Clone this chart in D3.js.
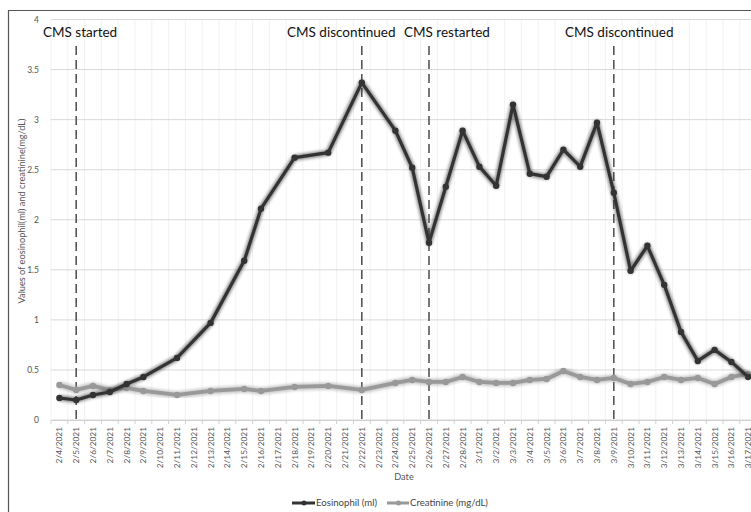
<!DOCTYPE html>
<html><head><meta charset="utf-8">
<script src="https://cdn.jsdelivr.net/npm/d3@7"></script>
<style>body{margin:0;background:#fff;}svg{display:block;}text{font-family:Lato,"Open Sans",sans-serif;}</style>
</head><body><svg id="c" width="751" height="512"></svg>
<script>
const dates = ["2/4/2021","2/5/2021","2/6/2021","2/7/2021","2/8/2021","2/9/2021","2/10/2021","2/11/2021","2/12/2021","2/13/2021","2/14/2021","2/15/2021","2/16/2021","2/17/2021","2/18/2021","2/19/2021","2/20/2021","2/21/2021","2/22/2021","2/23/2021","2/24/2021","2/25/2021","2/26/2021","2/27/2021","2/28/2021","3/1/2021","3/2/2021","3/3/2021","3/4/2021","3/5/2021","3/6/2021","3/7/2021","3/8/2021","3/9/2021","3/10/2021","3/11/2021","3/12/2021","3/13/2021","3/14/2021","3/15/2021","3/16/2021","3/17/2021"];
const eosinophil = [0.22,0.20,0.25,0.28,0.36,0.43,null,0.62,null,0.97,null,1.59,2.11,null,2.62,null,2.67,null,3.37,null,2.89,2.52,1.77,2.33,2.89,2.53,2.34,3.15,2.46,2.43,2.70,2.53,2.97,2.27,1.49,1.74,1.35,0.88,0.59,0.70,0.58,0.43];
const creatinine = [0.35,0.30,0.34,0.30,0.32,0.29,null,0.25,null,0.29,null,0.31,0.29,null,0.33,null,0.34,null,0.30,null,0.37,0.40,0.38,0.38,0.43,0.38,0.37,0.37,0.40,0.41,0.49,0.43,0.40,0.42,0.36,0.38,0.43,0.40,0.42,0.36,0.43,0.46];
const yTicks = [0,0.5,1,1.5,2,2.5,3,3.5,4];
const events = [{date:"2/5/2021",label:"CMS started",lx:43},{date:"2/22/2021",label:"CMS discontinued",lx:287},{date:"2/26/2021",label:"CMS restarted",lx:404},{date:"3/9/2021",label:"CMS discontinued",lx:565}];
const seriesNames = ["Eosinophil (ml)","Creatinine (mg/dL)"];
const seriesColors = ["#333333","#999999"];

const svg = d3.select("#c");
const defs = svg.append("defs");
defs.append("filter").attr("id","blur").attr("x","-10%").attr("y","-10%").attr("width","120%").attr("height","120%")
  .append("feGaussianBlur").attr("stdDeviation",1.6);

// frame
svg.append("path").attr("d","M8.5,520V10.5H760").attr("fill","none").attr("stroke","#555").attr("stroke-width",1.2);

const pLeft=51, pTop=19.5, pBottom=420;
const x = d3.scaleBand().domain(dates).range([pLeft, pLeft+42*16.8]);
const y = d3.scaleLinear().domain([0,4]).range([pBottom, pTop]);
const cx = d => x(d)+x.bandwidth()/2;
const bounds = d3.range(dates.length+1).map(i=>pLeft+i*x.step());

// grid
const g = svg.append("g");
g.selectAll(".vg").data(bounds).enter().append("line")
  .attr("x1",d=>d).attr("x2",d=>d)
  .attr("y1",pTop).attr("y2",pBottom).attr("stroke","#f2f2f2").attr("stroke-width",1);
g.selectAll(".hg").data(yTicks).enter().append("line")
  .attr("x1",pLeft).attr("x2",760).attr("y1",d=>y(d)).attr("y2",d=>y(d))
  .attr("stroke","#d9d9d9").attr("stroke-width",1);

// y axis labels
const ya = svg.append("g").attr("transform",`translate(${pLeft-9},0)`)
  .call(d3.axisLeft(y).tickValues(yTicks).tickSize(0).tickFormat(d3.format("")));
ya.select(".domain").remove();
ya.selectAll("text").attr("font-size",8.5).attr("fill","#555").attr("font-family","Lato,sans-serif");

// x axis
const xa = svg.append("g").attr("transform",`translate(0,${pBottom})`)
  .call(d3.axisBottom(x).tickSize(0));
xa.select(".domain").attr("stroke","#d0d0d0");
xa.selectAll("text").attr("font-size",8.3).attr("fill","#555").attr("font-family","Lato,sans-serif")
  .attr("transform","rotate(-90)").attr("text-anchor","end").attr("dx","-7").attr("dy","0.35em").attr("x",0).attr("y",0);
svg.selectAll(".xt").data(bounds).enter().append("line")
  .attr("x1",d=>d).attr("x2",d=>d)
  .attr("y1",pBottom).attr("y2",pBottom+4).attr("stroke","#d0d0d0");

// axis titles
svg.append("text").attr("transform","translate(25,211) rotate(-90)").attr("text-anchor","middle")
  .attr("font-size",9.2).attr("fill","#555").text("Values of eosinophil(ml) and creatinine(mg/dL)");
svg.append("text").attr("x",404).attr("y",480).attr("text-anchor","middle").attr("font-size",9.2).attr("fill","#555").text("Date");

// events
events.forEach(e=>{
  svg.append("line").attr("x1",cx(e.date)).attr("x2",cx(e.date)).attr("y1",46).attr("y2",pBottom+2)
    .attr("stroke","#555").attr("stroke-width",1.6).attr("stroke-dasharray","9,5");
  svg.append("text").attr("x",e.lx).attr("y",37).attr("font-size",13.5).attr("fill","#111").text(e.label);
});

// series
[creatinine, eosinophil].forEach((vals,k)=>{
  const idx = k===0?1:0;
  const col = seriesColors[idx];
  const pts = dates.map((d,i)=>({d,v:vals[i]})).filter(p=>p.v!==null);
  const line = d3.line().x(p=>cx(p.d)).y(p=>y(p.v));
  const sg = svg.append("g");
  sg.append("path").attr("d",line(pts)).attr("fill","none").attr("stroke",col).attr("stroke-width",idx===0?6:7)
    .attr("opacity",0.55).attr("filter","url(#blur)").attr("stroke-linejoin","round");
  sg.append("path").attr("d",line(pts)).attr("fill","none").attr("stroke",col).attr("stroke-width",idx===0?3.2:3.8).attr("stroke-linejoin","round");
  sg.selectAll("circle").data(pts).enter().append("circle").attr("cx",p=>cx(p.d)).attr("cy",p=>y(p.v))
    .attr("r",3.2).attr("fill",col);
});

// legend
const lg = svg.append("g");
[[292,316],[387,410]].forEach((pos,i)=>{
  lg.append("line").attr("x1",pos[0]).attr("x2",pos[1]-1).attr("y1",503).attr("y2",503).attr("stroke",seriesColors[i]).attr("stroke-width",3);
  lg.append("circle").attr("cx",(pos[0]+pos[1])/2).attr("cy",503).attr("r",2.5).attr("fill",seriesColors[i]);
  lg.append("text").attr("x",pos[1]).attr("y",506).attr("font-size",9.6).attr("fill","#444").text(seriesNames[i]);
});
</script></body></html>
